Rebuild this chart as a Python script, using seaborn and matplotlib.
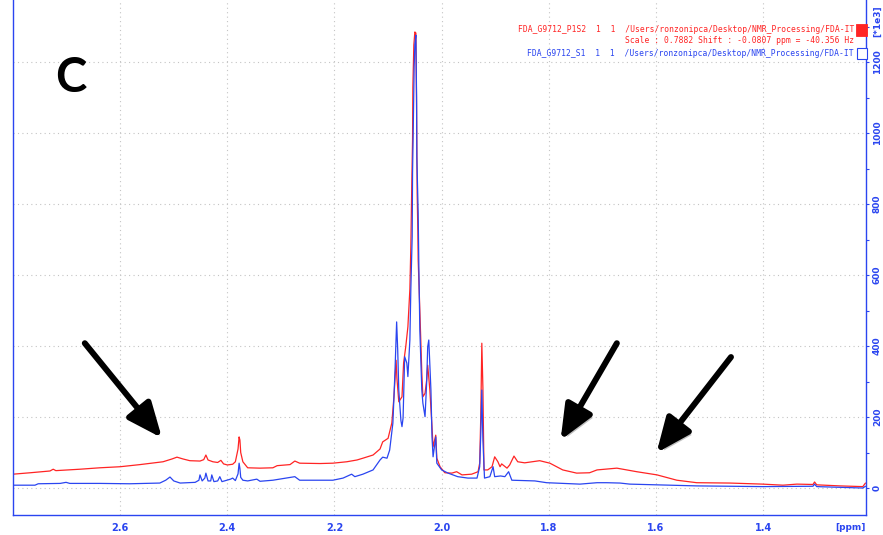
import matplotlib
matplotlib.use("Agg")
import matplotlib.pyplot as plt
import matplotlib.patheffects as pe
from matplotlib.patches import Rectangle
from matplotlib.ticker import FixedLocator, MultipleLocator
import pandas as pd
import seaborn as sns

# --- spectrum traces (ppm, intensity in units of 1e3) ---
red_ppm = [2.800, 2.768, 2.731, 2.725, 2.720, 2.675, 2.638, 2.600, 2.563, 2.520,
           2.503, 2.494, 2.483, 2.470, 2.451, 2.444, 2.440, 2.436, 2.427, 2.418,
           2.412, 2.407, 2.400, 2.390, 2.385, 2.380, 2.378, 2.3765, 2.375, 2.371,
           2.362, 2.339, 2.315, 2.307, 2.283, 2.274, 2.265, 2.227, 2.203, 2.177,
           2.158, 2.147, 2.128, 2.115, 2.110, 2.100, 2.093, 2.089, 2.085, 2.0835,
           2.080, 2.074, 2.071, 2.067, 2.063, 2.0593, 2.0575, 2.0556, 2.0543, 2.0537,
           2.0519, 2.0500, 2.0481, 2.0468, 2.0457, 2.0444, 2.0438, 2.0407, 2.037, 2.035,
           2.031, 2.028, 2.026, 2.022, 2.018, 2.016, 2.011, 2.009, 2.003, 1.994,
           1.981, 1.972, 1.962, 1.944, 1.932, 1.929, 1.927, 1.925, 1.923, 1.921,
           1.914, 1.906, 1.901, 1.895, 1.891, 1.888, 1.878, 1.873, 1.865, 1.858,
           1.845, 1.817, 1.798, 1.774, 1.748, 1.724, 1.710, 1.673, 1.636, 1.598,
           1.561, 1.524, 1.462, 1.401, 1.363, 1.337, 1.307, 1.304, 1.300, 1.257,
           1.214, 1.209]
red_int = [39, 43, 48, 53, 49, 53, 57, 60, 66, 74,
           82, 87, 82, 77, 76, 80, 93, 79, 74, 72,
           78, 68, 65, 67, 74, 110, 144, 135, 100, 74,
           57, 56, 57, 63, 66, 76, 70, 69, 70, 74,
           79, 84, 93, 110, 130, 140, 183, 257, 360, 310,
           243, 257, 352, 398, 454, 560, 680, 868, 980, 1130,
           1248, 1285, 1282, 1075, 831, 722, 642, 501, 324, 257,
           267, 304, 346, 276, 173, 116, 149, 84, 60, 43,
           42, 46, 37, 39, 46, 70, 200, 408, 282, 51,
           51, 60, 88, 74, 60, 68, 56, 65, 90, 74,
           71, 77, 70, 51, 42, 43, 51, 56, 46, 37,
           22, 15, 14, 11, 8, 11, 10, 17, 9, 6,
           4, 14]

blue_ppm = [2.800, 2.759, 2.753, 2.712, 2.701, 2.694, 2.638, 2.582, 2.526, 2.515,
            2.507, 2.500, 2.488, 2.460, 2.453, 2.451, 2.447, 2.442, 2.440, 2.436,
            2.431, 2.429, 2.425, 2.418, 2.414, 2.410, 2.394, 2.390, 2.385, 2.380,
            2.378, 2.3765, 2.375, 2.371, 2.362, 2.345, 2.339, 2.315, 2.274, 2.265,
            2.203, 2.184, 2.168, 2.162, 2.147, 2.128, 2.115, 2.110, 2.102, 2.097,
            2.091, 2.087, 2.084, 2.082, 2.080, 2.076, 2.074, 2.072, 2.069, 2.065,
            2.063, 2.0593, 2.0575, 2.0550, 2.0543, 2.0532, 2.0513, 2.0500, 2.0481, 2.0468,
            2.0463, 2.0438, 2.0425, 2.0407, 2.037, 2.035, 2.031, 2.028, 2.026, 2.024,
            2.020, 2.018, 2.016, 2.011, 2.009, 2.000, 1.988, 1.970, 1.951, 1.934,
            1.929, 1.927, 1.925, 1.923, 1.920, 1.910, 1.904, 1.901, 1.890, 1.882,
            1.875, 1.869, 1.826, 1.804, 1.742, 1.710, 1.692, 1.667, 1.649, 1.524,
            1.401, 1.307, 1.304, 1.300, 1.214, 1.209]
blue_int = [8, 8, 12, 13, 16, 13, 13, 12, 14, 22,
            31, 20, 14, 16, 22, 37, 20, 28, 42, 20,
            20, 37, 18, 20, 32, 18, 25, 28, 21, 40,
            70, 55, 30, 22, 20, 25, 19, 22, 32, 22,
            22, 28, 39, 32, 39, 51, 79, 87, 84, 107,
            183, 332, 468, 389, 276, 190, 173, 197, 370, 352,
            314, 417, 560, 708, 887, 990, 1187, 1250, 1276, 1102,
            933, 775, 620, 445, 276, 239, 201, 296, 398, 417,
            276, 144, 88, 144, 70, 51, 42, 32, 28, 28,
            60, 150, 276, 135, 28, 32, 60, 32, 34, 32,
            46, 22, 20, 15, 11, 15, 15, 14, 11, 6,
            4, 5, 11, 4, 0, 5]

x_ticks = [2.6, 2.4, 2.2, 2.0, 1.8, 1.6, 1.4]
y_ticks = [0, 200, 400, 600, 800, 1000, 1200]

legend_red = "FDA_G9712_P1S2  1  1  /Users/ronzonipca/Desktop/NMR_Processing/FDA-IT"
legend_scale = "Scale : 0.7882 Shift : -0.0807 ppm = -40.356 Hz"
legend_blue = "FDA_G9712_S1  1  1  /Users/ronzonipca/Desktop/NMR_Processing/FDA-IT"

# annotation arrows: (tail ppm, tail intensity) -> (head ppm, head intensity)
arrow_tails = [(2.666, 408), (1.673, 408), (1.460, 369)]
arrow_heads = [(2.522, 141), (1.778, 135), (1.599, 99)]

RED = "#ff2424"
BLUE = "#2a45f0"

sns.set_style("white")
plt.rcParams["font.family"] = ["DejaVu Sans"]

W, H = 883, 535
fig = plt.figure(figsize=(W / 100, H / 100), dpi=100)
ax = fig.add_axes([13 / W, 20 / H, (866 - 13) / W, 515 / H])

red_df = pd.DataFrame({"ppm": red_ppm, "intensity": red_int})
blue_df = pd.DataFrame({"ppm": blue_ppm, "intensity": blue_int})
sns.lineplot(data=red_df, x="ppm", y="intensity", color=RED, lw=0.9,
             sort=False, estimator=None, ax=ax)
sns.lineplot(data=blue_df, x="ppm", y="intensity", color=BLUE, lw=0.9,
             sort=False, estimator=None, ax=ax)

ax.set_xlim(2.8, 1.208)
ax.set_ylim(-76, 1375)
ax.set_xlabel("")
ax.set_ylabel("")

ax.xaxis.set_major_locator(FixedLocator(x_ticks))
ax.xaxis.set_minor_locator(MultipleLocator(0.05))
ax.yaxis.set_major_locator(FixedLocator(y_ticks))
ax.yaxis.set_minor_locator(MultipleLocator(100))
ax.set_xticklabels([f"{v:.1f}" for v in x_ticks])
ax.set_yticklabels([str(v) for v in y_ticks])
ax.yaxis.tick_right()

ax.tick_params(axis="both", which="both", colors=BLUE, direction="out", width=0.8)
ax.tick_params(axis="x", which="both", length=4)
ax.tick_params(axis="x", which="major", labelsize=7, pad=2)
ax.tick_params(axis="y", which="both", length=2.5)
ax.tick_params(axis="y", which="major", labelsize=6.5, pad=2.5)
for lab in ax.get_xticklabels():
    lab.set_fontweight("bold")
for lab in ax.get_yticklabels():
    lab.set_fontweight("bold")
    lab.set_rotation(90)
    lab.set_va("center")

ax.grid(True, which="major", color="#c4c4c4", linestyle=(0, (1, 3)), lw=0.8)
ax.set_axisbelow(True)

for side in ("left", "bottom", "right"):
    ax.spines[side].set_color(BLUE)
    ax.spines[side].set_linewidth(1.0)
ax.spines["top"].set_visible(False)

# axis unit labels
fig.text(850 / W, 1 - 527 / H, "[ppm]", color=BLUE, fontsize=6.5,
         fontweight="bold", ha="center", va="center")
fig.text(877.5 / W, 1 - 21 / H, "[*1e3]", color=BLUE, fontsize=6.5,
         fontweight="bold", rotation=90, ha="center", va="center")

# dataset legend
mono = "DejaVu Sans Mono"
fig.text(854 / W, 1 - 30 / H, legend_red, color=RED, fontsize=5.8,
         family=mono, ha="right", va="center")
fig.text(854 / W, 1 - 40.5 / H, legend_scale, color=RED, fontsize=5.8,
         family=mono, ha="right", va="center")
fig.text(854 / W, 1 - 54 / H, legend_blue, color=BLUE, fontsize=5.8,
         family=mono, ha="right", va="center")
fig.add_artist(Rectangle((856 / W, 1 - 35.7 / H), 10.5 / W, 11.4 / H,
                         transform=fig.transFigure, facecolor=RED,
                         edgecolor=RED, lw=0.6))
fig.add_artist(Rectangle((856.5 / W, 1 - 59 / H), 10 / W, 11.3 / H,
                         transform=fig.transFigure, facecolor="white",
                         edgecolor=BLUE, lw=0.8))

# panel letter
fig.text(71 / W, 1 - 78 / H, "C", fontsize=34, family="Lato",
         fontweight="bold", color="black", ha="center", va="center")

# arrows pointing at the broad background humps
for tail, head in zip(arrow_tails, arrow_heads):
    ann = ax.annotate("", xy=head, xytext=tail, xycoords="data",
                      arrowprops=dict(arrowstyle="-|>,head_length=1.4,head_width=0.6",
                                      mutation_scale=15, lw=4.3,
                                      color="black", shrinkA=0, shrinkB=0))
    ann.arrow_patch.set_path_effects([
        pe.SimplePatchShadow(offset=(2, -2.5), shadow_rgbFace="black", alpha=0.25),
        pe.Normal()])

fig.savefig("out.png", dpi=100)
